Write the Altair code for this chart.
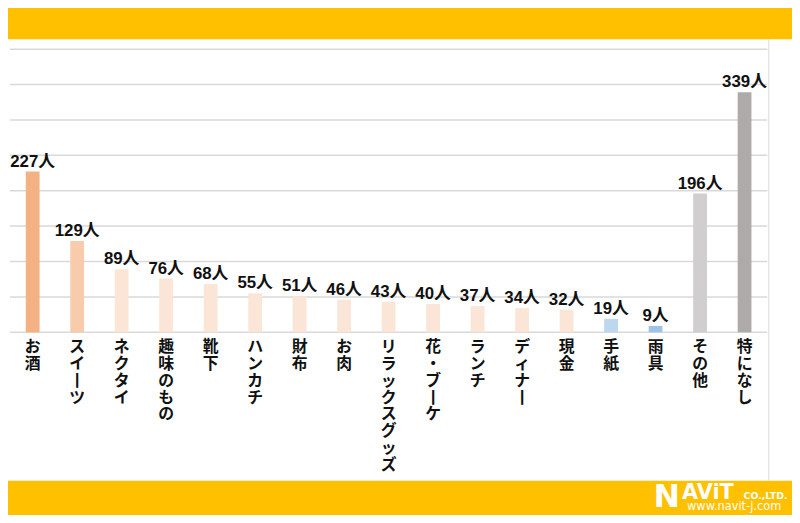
import altair as alt
import pandas as pd

categories = ["お酒", "スイーツ", "ネクタイ", "趣味のもの", "靴下", "ハンカチ", "財布", "お肉",
              "リラックスグッズ", "花・ブーケ", "ランチ", "ディナー", "現金", "手紙", "雨具",
              "その他", "特になし"]
values = [227, 129, 89, 76, 68, 55, 51, 46, 43, 40, 37, 34, 32, 19, 9, 196, 339]
bar_colors = ["#F4B183", "#F8CBAD", "#FBE5D6", "#FBE5D6", "#FBE5D6", "#FBE5D6", "#FBE5D6",
              "#FBE5D6", "#FBE5D6", "#FBE5D6", "#FBE5D6", "#FBE5D6", "#FBE5D6", "#BDD7EE",
              "#9DC3E6", "#D0CECE", "#AEAAAA"]
y_ticks = [0, 50, 100, 150, 200, 250, 300, 350, 400]

FONT = "Noto Sans CJK JP"
NUMFONT = "Liberation Sans, Noto Sans CJK JP"
W, H = 765, 286
PAD = {"left": 2, "top": 39, "right": 25, "bottom": 182}

df = pd.DataFrame({"category": categories, "value": values})
df["label"] = df["value"].astype(str) + "人"
# vertical writing: one character per line, long-vowel mark turned upright
df["vlabel"] = ["\n".join("丨" if ch == "ー" else ch for ch in c) for c in categories]

grid_df = pd.DataFrame({"tick": y_ticks})
one = pd.DataFrame({"k": [0]})

x_scale = alt.Scale(domain=categories, paddingInner=0.69, paddingOuter=0.355)
y_scale = alt.Scale(domain=[0, 400], nice=False)

grid = alt.Chart(grid_df).mark_rule(color="#D9D9D9", strokeWidth=1.5).encode(
    y=alt.Y("tick:Q", scale=y_scale, axis=None),
    x=alt.value(0), x2=alt.value(W),
)

bars = alt.Chart(df).mark_bar().encode(
    x=alt.X("category:N", sort=categories, scale=x_scale, axis=None),
    y=alt.Y("value:Q", scale=y_scale, axis=None),
    color=alt.Color("category:N", scale=alt.Scale(domain=categories, range=bar_colors), legend=None),
)

texts = alt.Chart(df).mark_text(font=NUMFONT, fontSize=17, fontWeight="bold", baseline="bottom",
                                dy=-1, color="#111111").encode(
    x=alt.X("category:N", sort=categories, axis=None),
    y=alt.Y("value:Q", axis=None),
    text="label:N",
)

cat_labels = alt.Chart(df).mark_text(font=FONT, fontSize=16, fontWeight="bold", baseline="top",
                                     align="center", lineHeight=17, lineBreak="\n",
                                     color="#111111").encode(
    x=alt.X("category:N", sort=categories, axis=None),
    y=alt.value(H + 7),
    text="vlabel:N",
)

band_top = alt.Chart(one).mark_rect(color="#FFC000").encode(
    x=alt.value(-2), x2=alt.value(W + PAD["right"]), y=alt.value(-50), y2=alt.value(-10))
band_bot = alt.Chart(one).mark_rect(color="#FFC000").encode(
    x=alt.value(-2), x2=alt.value(W + PAD["right"]), y=alt.value(436), y2=alt.value(480))
edge = alt.Chart(one).mark_rule(color="#E6E6E6", strokeWidth=1.5).encode(
    x=alt.value(W + 1.5), y=alt.value(-10), y2=alt.value(436))

logo_n = alt.Chart(one).mark_text(text="N", font="DejaVu Sans", fontSize=32, fontWeight="bold",
                                   color="white", align="left", baseline="alphabetic").encode(
    x=alt.value(650), y=alt.value(462))
logo_avit = alt.Chart(one).mark_text(text="AViT", font="DejaVu Sans", fontSize=21, fontWeight="bold",
                                      color="white", align="left", baseline="alphabetic").encode(
    x=alt.value(679), y=alt.value(454))
logo_co = alt.Chart(one).mark_text(text="CO.,LTD.", font="DejaVu Sans", fontSize=9.5, fontWeight="bold",
                                    color="white", align="left", baseline="alphabetic").encode(
    x=alt.value(741), y=alt.value(454))
logo_url = alt.Chart(one).mark_text(text="www.navit-j.com", font="DejaVu Sans", fontSize=11.5,
                                     color="white", align="left", baseline="alphabetic").encode(
    x=alt.value(684), y=alt.value(466))

chart = alt.layer(band_top, band_bot, edge, grid, bars, texts, cat_labels,
                  logo_n, logo_avit, logo_co, logo_url).properties(
    width=W, height=H, padding=PAD, autosize=alt.AutoSizeParams(type="none"),
    background="white",
).configure_view(stroke=None)

chart.save("out.html", embed_options={"renderer": "svg", "actions": False})
